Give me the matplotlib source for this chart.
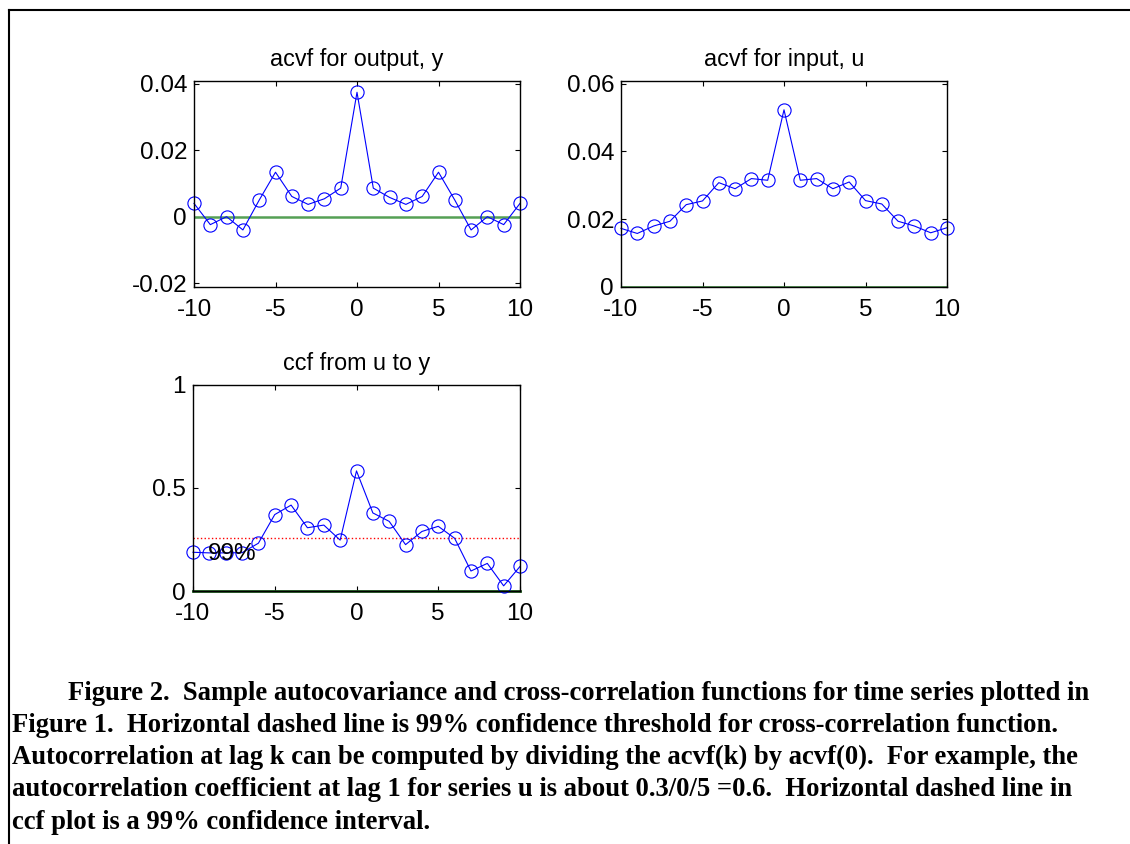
import matplotlib
matplotlib.use("Agg")
import matplotlib.pyplot as plt
from matplotlib.lines import Line2D

plt.rcParams['font.family'] = ['Liberation Sans', 'DejaVu Sans']
plt.rcParams['axes.unicode_minus'] = False

lags = list(range(-10, 11))

# acvf of output y
acvf_y = [0.0040, -0.0024, 0.0000, -0.0040, 0.0050, 0.0134, 0.0061, 0.0037, 0.0054, 0.0086,
          0.0375,
          0.0086, 0.0058, 0.0037, 0.0061, 0.0134, 0.0050, -0.0040, 0.0000, -0.0024, 0.0040]

# acvf of input u
acvf_u = [0.0173, 0.0158, 0.0180, 0.0194, 0.0243, 0.0254, 0.0308, 0.0290, 0.0320, 0.0315,
          0.0523,
          0.0315, 0.0320, 0.0290, 0.0310, 0.0255, 0.0245, 0.0194, 0.0180, 0.0160, 0.0175]

# ccf from u to y
ccf_uy = [0.188, 0.185, 0.185, 0.186, 0.232, 0.371, 0.417, 0.307, 0.320, 0.247,
          0.583,
          0.379, 0.338, 0.225, 0.289, 0.314, 0.256, 0.097, 0.134, 0.025, 0.119]
conf99 = 0.256

titles = ["acvf for output, y", "acvf for input, u", "ccf from u to y"]
caption = [
    "Figure 2.  Sample autocovariance and cross-correlation functions for time series plotted in",
    "Figure 1.  Horizontal dashed line is 99% confidence threshold for cross-correlation function.",
    "Autocorrelation at lag k can be computed by dividing the acvf(k) by acvf(0).  For example, the",
    "autocorrelation coefficient at lag 1 for series u is about 0.3/0/5 =0.6.  Horizontal dashed line in",
    "ccf plot is a 99% confidence interval.",
]

W, H = 1130, 844
fig = plt.figure(figsize=(W / 100, H / 100), dpi=100)

def box(l, t, r, b):
    return [l / W, 1 - b / H, (r - l) / W, (b - t) / H]

def style(ax, title):
    ax.set_xlim(-10, 10)
    ax.set_xticks([-10, -5, 0, 5, 10])
    ax.tick_params(direction='in', top=True, right=True, length=3.5, width=0.8,
                   labelsize=17.5)
    ax.tick_params(axis='x', pad=9)
    ax.tick_params(axis='y', pad=5)
    for s in ax.spines.values():
        s.set_linewidth(1.0)
    ax.set_title(title, fontsize=16.8, pad=11)

ax1 = fig.add_axes(box(194, 81, 520, 287))
ax1.plot(lags, [0] * len(lags), color='#55a055', lw=1.8)
ax1.plot(lags, acvf_y, '-o', color='blue', lw=0.8, mfc='none', ms=9.5, mew=0.8, clip_on=False)
ax1.set_ylim(-0.0212, 0.0409)
ax1.set_yticks([-0.02, 0, 0.02, 0.04])
ax1.set_yticklabels(['-0.02', '0', '0.02', '0.04'])
style(ax1, titles[0])

ax2 = fig.add_axes(box(621, 81, 947, 287))
ax2.plot(lags, [0] * len(lags), color='#2a7a2a', lw=1.8)
ax2.plot(lags, acvf_u, '-o', color='blue', lw=0.8, mfc='none', ms=9.5, mew=0.8, clip_on=False)
ax2.set_ylim(0, 0.0608)
ax2.set_yticks([0, 0.02, 0.04, 0.06])
ax2.set_yticklabels(['0', '0.02', '0.04', '0.06'])
style(ax2, titles[1])

ax3 = fig.add_axes(box(193, 385, 520, 591))
ax3.plot(lags, [0] * len(lags), color='#1d5c1d', lw=2.0, clip_on=False)
ax3.plot(lags, [conf99] * len(lags), ':', color='red', lw=1.0)
ax3.plot(lags, ccf_uy, '-o', color='blue', lw=0.8, mfc='none', ms=9.5, mew=0.8, clip_on=False)
ax3.text(-9.1, 0.18, "99%", fontsize=17.5, va='center', ha='left')
ax3.set_ylim(0, 1)
ax3.set_yticks([0, 0.5, 1])
ax3.set_yticklabels(['0', '0.5', '1'])
style(ax3, titles[2])

# caption
x0 = [68, 12, 12, 12, 12]
for i, line in enumerate(caption):
    fig.text(x0[i] / W, 1 - (693 + 32.3 * i) / H, line, fontsize=19.2,
             family=['Liberation Serif'], weight='bold', va='center', ha='left')

# frame (top and left edges visible)
fig.add_artist(Line2D([9 / W, 1], [1 - 10 / H, 1 - 10 / H], color='black', lw=1.5))
fig.add_artist(Line2D([9 / W, 9 / W], [0, 1 - 10 / H], color='black', lw=1.5))

fig.savefig("out.png", dpi=100)
